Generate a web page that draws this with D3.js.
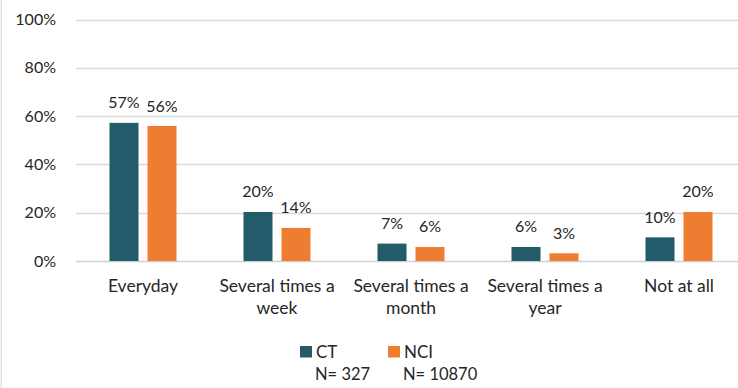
<!DOCTYPE html>
<html><head><meta charset="utf-8">
<script src="https://cdn.jsdelivr.net/npm/d3@7"></script>
<style>body{margin:0;background:#fff;}svg{display:block;font-family:Lato,"Open Sans",sans-serif;}</style>
</head><body>
<svg id="c" width="738" height="388"></svg>
<script>
const categories = [["Everyday"],["Several times a","week"],["Several times a","month"],["Several times a","year"],["Not at all"]];
const ctValues = [57.2, 20.3, 7.2, 5.8, 9.8];
const nciValues = [55.9, 13.7, 5.8, 3.2, 20.3];
const ctLabels = ["57%","20%","7%","6%","10%"];
const nciLabels = ["56%","14%","6%","3%","20%"];
const yTicks = [0,20,40,60,80,100];
const seriesNames = ["CT","NCI"];
const seriesN = ["N= 327","N= 10870"];
const colors = ["#235B6A","#ED7D31"];

const svg = d3.select("#c");
svg.append("rect").attr("x",0.5).attr("y",0).attr("width",1.5).attr("height",388).attr("fill","#e3e3e3");

const x = d3.scaleBand().domain(d3.range(categories.length)).range([76,746]).paddingInner(0).paddingOuter(0);
const y = d3.scaleLinear().domain([0,100]).range([261,19.5]);
const bw = 29, gap = 9;

// grid
svg.append("g").selectAll("line").data(yTicks).join("line")
  .attr("x1",76).attr("x2",738).attr("y1",d=>Math.round(y(d))+0.5).attr("y2",d=>Math.round(y(d))+0.5)
  .attr("stroke",d=>d===0?"#d0d0d0":"#d9d9d9").attr("stroke-width",1.3);

// y labels
svg.append("g").selectAll("text").data(yTicks).join("text")
  .attr("x",56).attr("y",d=>y(d)+5.5).attr("text-anchor","end")
  .attr("font-size",16).attr("fill","#262626").text(d=>d+"%");

const series = [ctValues, nciValues];
const labels = [ctLabels, nciLabels];
series.forEach((vals, s) => {
  const xo = i => x(i) + x.bandwidth()/2 + (s===0 ? -(gap/2+bw) : gap/2);
  svg.append("g").selectAll("rect").data(vals).join("rect")
    .attr("x",(d,i)=>xo(i)).attr("width",bw)
    .attr("y",d=>y(d)).attr("height",d=>y(0)-y(d))
    .attr("fill",colors[s]);
  svg.append("g").selectAll("text").data(vals).join("text")
    .attr("x",(d,i)=>xo(i)+bw/2).attr("y",d=>y(d)-14.5)
    .attr("text-anchor","middle").attr("font-size",16).attr("fill","#262626")
    .text((d,i)=>labels[s][i]);
});

// category labels
const cg = svg.append("g");
categories.forEach((lines,i)=>{
  lines.forEach((ln,j)=>{
    cg.append("text").attr("x",x(i)+x.bandwidth()/2).attr("y",292+j*22)
      .attr("text-anchor","middle").attr("font-size",17.5).attr("fill","#262626").text(ln);
  });
});

// legend
const lx = [300, 388];
seriesNames.forEach((n,s)=>{
  svg.append("rect").attr("x",lx[s]).attr("y",346).attr("width",12).attr("height",11.5).attr("fill",colors[s]);
  svg.append("text").attr("x",lx[s]+16).attr("y",357.5).attr("font-size",17).attr("fill","#262626").text(n);
  svg.append("text").attr("x",lx[s]+15).attr("y",380).attr("font-size",16.5).attr("fill","#262626").text(seriesN[s]);
});
</script>
</body></html>
